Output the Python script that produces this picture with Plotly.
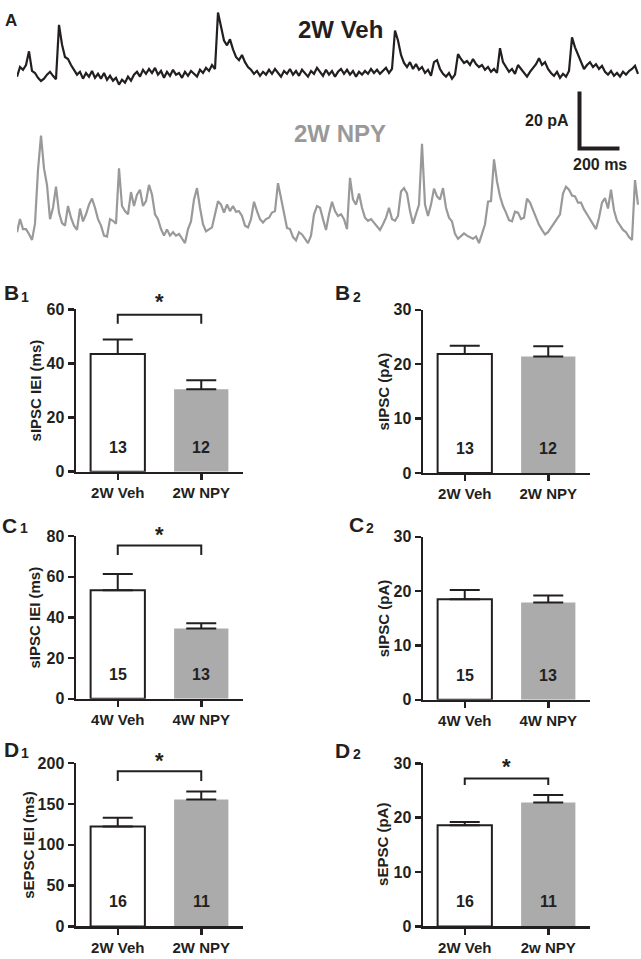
import plotly.graph_objects as go

W, H = 641, 959
FONT = "Liberation Sans, Arial, Helvetica, sans-serif"
INK = "#231f20"
GRAY_BAR = "#ababab"
GRAY_TRACE = "#999999"

# ---------------- data ----------------
dt_ms = 15
veh_trace_pA = [
    -1.0, 2.4, 1.4, 3.1, 7.9, 1.0, 0.3, -1.4, -2.5, -1.7,
    -0.3, 0.7, -0.7, -1.9, 17.2, 10.3, 5.9, 5.2, 3.1, 1.4,
    -0.3, 0.7, -1.7, 0.3, -1.0, 1.0, -1.4, 0, -1.7, 0.3,
    -2.1, -0.7, -2.4, -1.4, -3.8, -2.1, -3.1, -1.0, -2.4, -0.3,
    0.7, -1.0, 1.4, 0, 1.7, 0.3, 2.1, -0.3, 1.0, -1.4,
    0.7, -0.7, 1.4, -0.3, 0.3, -1.4, 0.7, -0.7, 1.0, 0,
    -1.0, 1.4, 0.3, 2.1, 1.0, 3.1, 1.7, 21.5, 16.2, 11.7,
    10.0, 12.1, 8.6, 5.9, 4.8, 6.6, 4.1, 2.4, 1.4, 0,
    1.0, -0.7, 0.7, -0.3, 1.4, 0, 1.7, 0.3, -1.0, 1.0,
    0, 1.7, -0.3, 1.0, -0.7, 1.4, 0.3, -1.0, 1.0, 0,
    2.1, 0.7, -0.7, 1.4, -0.3, 1.0, -1.0, 0.7, 1.7, 0,
    1.4, -0.3, 1.0, -1.0, 0.7, -0.3, 1.0, 0, 1.7, 0.3,
    1.4, 0, 1.0, 2.1, 0.3, 1.7, 15.2, 11.7, 6.6, 3.8,
    2.4, 4.1, 1.7, 3.4, 1.4, 2.4, 0.3, 1.4, -0.7, 4.1,
    4.8, 1.7, 0, -1.0, 0.3, -1.7, -0.3, 6.9, 5.2, 3.8,
    4.5, 3.1, 5.2, 3.4, 2.4, 3.1, 1.4, 2.4, 0.7, 1.7,
    0.3, 9.0, 4.1, 2.4, 0.7, 1.7, 0, 3.1, 1.7, 0,
    -1.0, 0.7, 2.1, 3.4, 5.5, 3.1, 4.1, 1.7, 0.3, -0.7,
    0.7, -1.4, 0, -1.0, 1.0, 12.8, 9.3, 6.6, 3.8, 1.7,
    3.1, 4.1, 2.4, 3.4, 1.7, 2.8, 0.7, -0.3, 1.0, -0.7,
    0.3, -1.0, 0.7, -0.3, 1.0, 1.7, 2.8, 0,
]
npy_trace_pA = [
    0.6, 5.2, 1.7, 1.7, 0, -2.1, 3.6, 22.5, 34.5, 23.0,
    17.2, 5.2, 9.2, 16.6, 7.5, 3.8, 2.9, 9.8, 5.7, 2.9,
    1.4, 8.9, 4.4, 6.9, 10.3, 12.4, 9.2, 5.2, 2.9, -0.6,
    -0.9, 5.2, 4.6, 3.6, 23.0, 9.8, 8.0, 6.9, 14.7, 9.8,
    13.8, 15.5, 9.8, 11.5, 17.2, 13.8, 6.9, 5.2, 1.7, -0.6,
    1.6, -0.6, 0.6, -0.6, 0, -1.7, -3.2, 1.7, 4.4, 12.1,
    16.1, 9.2, 3.4, 0.9, 1.6, 2.3, 6.9, 11.5, 10.3, 7.5,
    10.3, 8.0, 9.8, 7.8, 8.0, 6.3, 2.9, 2.3, 5.2, 11.3,
    8.0, 5.2, 4.0, 5.2, 5.7, 7.5, 8.0, 17.8, 12.6, 7.5,
    2.1, 1.7, -1.1, -2.3, 0.6, -0.2, -1.7, -3.2, -0.6, 6.9,
    9.8,
    9.2, 5.2, 1.4, 6.9, 11.3, 8.0, 6.3, 6.9, 5.2, 1.7,
    19.7, 12.1, 10.3, 14.2, 9.2, 5.7, 4.6, 5.2, 4.0, 2.5,
    1.4, 3.4, 5.7, 9.2, 5.2, 4.6, 6.3, 14.9, 16.1, 14.2,
    8.0, 3.6, 6.9, 10.3, 31.6, 10.3, 6.3, 10.3, 15.9, 13.2,
    12.1, 16.1, 9.2, 5.7, 4.4, 0, -1.7, -0.6, 0.2, -0.6,
    -1.1, -1.7, -0.9, -3.2, 0, 3.4, 11.3, 11.5, 26.2, 18.4,
    13.2, 9.8, 7.5, 4.8, 4.4, 7.8, 7.5, 5.2, 5.7, 12.4,
    11.0, 8.3, 5.2, 3.2, 1.4, -0.2, 0.6, 2.3, 3.6, 5.2,
    6.9, 14.2, 16.6, 15.5, 13.5, 13.2, 11.0, 11.0, 8.6, 6.9,
    5.2, 3.4, 1.7, 5.7, 11.0, 12.6, 8.9, 15.5, 8.3, 4.6,
    2.9, 1.4, 0.6, -1.1, -2.1, 18.9, 10.3,
]
scale_pA = 20
scale_ms = 200

groups_B = ["2W Veh", "2W NPY"]
groups_C = ["4W Veh", "4W NPY"]
groups_D1 = ["2W Veh", "2W NPY"]
groups_D2 = ["2W Veh", "2w NPY"]

b1_iei_mean = [43.5, 30.4]
b1_iei_sem = [5.3, 3.4]
b2_amp_mean = [21.9, 21.4]
b2_amp_sem = [1.5, 1.9]
c1_iei_mean = [53.4, 34.6]
c1_iei_sem = [8.0, 2.6]
c2_amp_mean = [18.5, 17.9]
c2_amp_sem = [1.7, 1.3]
d1_iei_mean = [122.3, 155.5]
d1_iei_sem = [10.8, 9.6]
d2_amp_mean = [18.6, 22.8]
d2_amp_sem = [0.6, 1.4]

n_B = [13, 12]
n_C = [15, 13]
n_D = [16, 11]


# --------------- helpers ---------------
def fx(px):
    return px / W


def fy(py):
    return 1 - py / H


def bold(size, color=INK):
    return dict(size=size, color=color, family=FONT, weight="bold")


fig = go.Figure()
annotations = []
shapes = []


def text(t, x, y, size, color=INK, xanchor="center", yanchor="middle", **kw):
    annotations.append(dict(text=t, x=fx(x), y=fy(y), xref="paper", yref="paper",
                            xanchor=xanchor, yanchor=yanchor, showarrow=False,
                            font=bold(size, color), **kw))


# --------------- panel A: traces ---------------
PX_PER_PA = 2.9
veh_base_py, npy_base_py = 67, 230
npy_offset = -(npy_base_py - veh_base_py) / PX_PER_PA
t_veh = [i * dt_ms for i in range(len(veh_trace_pA))]
t_npy = [i * dt_ms for i in range(len(npy_trace_pA))]

fig.add_trace(go.Scatter(x=t_veh, y=veh_trace_pA, mode="lines",
                         line=dict(color=INK, width=2.2), xaxis="x", yaxis="y",
                         hoverinfo="skip"))
fig.add_trace(go.Scatter(x=t_npy, y=[v + npy_offset for v in npy_trace_pA], mode="lines",
                         line=dict(color=GRAY_TRACE, width=2.2), xaxis="x", yaxis="y",
                         hoverinfo="skip"))

a_x0, a_x1 = 17, 640
ms_per_px = 5.0
layout_axes = dict(
    xaxis=dict(domain=[fx(a_x0), fx(a_x1)], range=[0, (a_x1 - a_x0) * ms_per_px],
               visible=False, anchor="y"),
    yaxis=dict(domain=[fy(250), fy(0)],
               range=[-(250 - veh_base_py) / PX_PER_PA, veh_base_py / PX_PER_PA],
               visible=False, anchor="x"),
)

# scale bar (data units of panel A)
sb_t0 = (579.5 - a_x0) * ms_per_px
sb_y0 = -(143 - veh_base_py) / PX_PER_PA
shapes.append(dict(type="path", xref="x", yref="y",
                   path=f"M {sb_t0},{sb_y0 + scale_pA} L {sb_t0},{sb_y0} L {sb_t0 + scale_ms},{sb_y0}",
                   line=dict(color=INK, width=4)))

text("A", 3, 13, 17, xanchor="left")
text("2W Veh", 340, 22, 24)
text("2W NPY", 340, 128, 24, color=GRAY_TRACE)
text(f"{scale_pA} pA", 571, 115, 16, xanchor="right")
text(f"{scale_ms} ms", 600, 159, 16)

# --------------- bar panels ---------------
panels = [
    dict(letter="B", sub="1", lab=(2, 290), sublab=(19, 294), px=(76, 243), py=(306.7, 472),
         ymax=60, dtick=20, ytitle="sIPSC IEI (ms)", yt_x=35, cats=groups_B,
         mean=b1_iei_mean, sem=b1_iei_sem, n=n_B, sig=(58, 54.6), star_py=299),
    dict(letter="B", sub="2", lab=(333, 290), sublab=(351, 294), px=(423, 590), py=(307.3, 473.3),
         ymax=30, dtick=10, ytitle="sIPSC (pA)", yt_x=383, cats=groups_B,
         mean=b2_amp_mean, sem=b2_amp_sem, n=n_B, sig=None, star_py=None),
    dict(letter="C", sub="1", lab=(0, 526.5), sublab=(18, 529), px=(76, 243), py=(537.7, 703.3),
         ymax=80, dtick=20, ytitle="sIPSC IEI (ms)", yt_x=35, cats=groups_C,
         mean=c1_iei_mean, sem=c1_iei_sem, n=n_C, sig=(75.4, 70.7), star_py=536),
    dict(letter="C", sub="2", lab=(347, 525.5), sublab=(364, 529.5), px=(423, 590), py=(538.3, 704.3),
         ymax=30, dtick=10, ytitle="sIPSC (pA)", yt_x=383, cats=groups_C,
         mean=c2_amp_mean, sem=c2_amp_sem, n=n_C, sig=None, star_py=None),
    dict(letter="D", sub="1", lab=(2, 755), sublab=(19, 758.5), px=(76, 243), py=(768.7, 935),
         ymax=200, dtick=50, ytitle="sEPSC IEI (ms)", yt_x=29, cats=groups_D1,
         mean=d1_iei_mean, sem=d1_iei_sem, n=n_D, sig=(190, 178), star_py=766),
    dict(letter="D", sub="2", lab=(333, 756), sublab=(351, 759), px=(423, 590), py=(769, 935),
         ymax=30, dtick=10, ytitle="sEPSC (pA)", yt_x=383, cats=groups_D2,
         mean=d2_amp_mean, sem=d2_amp_sem, n=n_D, sig=(27.2, 26.0), star_py=772),
]

for k, p in enumerate(panels, start=2):
    xa, ya = f"x{k}", f"y{k}"
    fig.add_trace(go.Bar(
        x=[0, 1], y=p["mean"], width=0.65, xaxis=xa, yaxis=ya,
        marker=dict(color=["white", GRAY_BAR], line=dict(color=[INK, GRAY_BAR], width=[2, 0])),
        error_y=dict(type="data", symmetric=False, array=p["sem"], arrayminus=[0, 0],
                     color=INK, thickness=2, width=15),
        hoverinfo="skip",
    ))
    layout_axes[f"xaxis{k}"] = dict(
        domain=[fx(p["px"][0]), fx(p["px"][1])], range=[-0.5, 1.5], anchor=ya,
        tickvals=[0, 1], ticktext=p["cats"], showline=True, linecolor=INK, linewidth=2.5,
        ticks="outside", ticklen=6, tickwidth=2.5, tickcolor=INK,
        tickfont=bold(15), showgrid=False, zeroline=False, fixedrange=True,
    )
    layout_axes[f"yaxis{k}"] = dict(
        domain=[fy(p["py"][1]), fy(p["py"][0])], range=[0, p["ymax"]], anchor=xa,
        tickvals=list(range(0, p["ymax"] + 1, p["dtick"])), showline=True, linecolor=INK,
        linewidth=2.5, ticks="outside", ticklen=6, tickwidth=2.5, tickcolor=INK,
        tickfont=bold(16), showgrid=False, zeroline=False, fixedrange=True,
    )
    ymid = (p["py"][0] + p["py"][1]) / 2
    text(p["ytitle"], p["yt_x"], ymid, 15, textangle=-90)
    text(p["letter"], p["lab"][0], p["lab"][1], 21, xanchor="left")
    text(p["sub"], p["sublab"][0], p["sublab"][1], 14, xanchor="left")
    for i in range(2):
        annotations.append(dict(text=str(p["n"][i]), x=i, y=0.15, xref=xa,
                                yref=f"{ya} domain", showarrow=False,
                                xanchor="center", yanchor="middle", font=bold(16)))
    if p["sig"]:
        top, leg = p["sig"]
        shapes.append(dict(type="path", xref=xa, yref=ya,
                           path=f"M 0,{leg} L 0,{top} L 1,{top} L 1,{leg}",
                           line=dict(color=INK, width=2)))
        annotations.append(dict(text="*", x=0.5, y=fy(p["star_py"]), xref=xa, yref="paper",
                                showarrow=False, xanchor="center", yanchor="middle",
                                font=bold(22)))

fig.update_layout(
    width=W, height=H, margin=dict(l=0, r=0, t=0, b=0),
    paper_bgcolor="white", plot_bgcolor="white", showlegend=False,
    font=dict(family=FONT, color=INK), barmode="overlay",
    annotations=annotations, shapes=shapes, **layout_axes,
)

fig.write_html("out.html", config={"displayModeBar": False, "staticPlot": True},
               post_script="document.body.style.margin='0px';")
